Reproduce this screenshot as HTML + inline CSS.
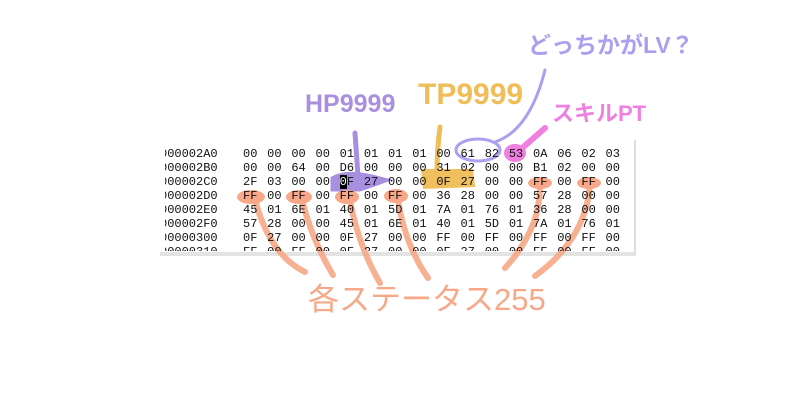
<!DOCTYPE html>
<html><head><meta charset="utf-8"><style>
body{margin:0;width:800px;height:400px;background:#fff;position:relative;overflow:hidden;font-family:"Liberation Sans","Noto Sans CJK JP",sans-serif}
#panel{position:absolute;left:160px;top:140px;width:474px;height:112px;background:#fff;border-right:2px solid #ddd;border-bottom:4px solid #e3e3e3;overflow:hidden}
.hx{position:absolute;font-family:"Liberation Mono",monospace;font-size:12px;color:#111;white-space:pre}
.lbl{position:absolute;font-weight:bold;white-space:nowrap}
</style></head><body>
<div id="panel"></div>
<svg width="800" height="400" style="position:absolute;left:0;top:0">
<g stroke-linecap="round" fill="none">
<path d="M355 133 L358 176" stroke="#a98fe0" stroke-width="5"/>
<path d="M332 178 Q345 170 372 176 L388 180 Q372 186 360 190 L332 190 Z" fill="#a98fe0" stroke="#a98fe0" stroke-width="3"/>
<path d="M440 127 Q437 150 437 172" stroke="#f0bd58" stroke-width="5"/>
<path d="M422 170 L472 170 L474 186 L424 188 Z" fill="#f0bd58" stroke="#f0bd58" stroke-width="2" opacity="0.95"/>
<ellipse cx="478" cy="150" rx="22" ry="11" stroke="#a9a0f0" stroke-width="3"/>
<path d="M495 142 Q530 130 545 70" stroke="#a9a0f0" stroke-width="3"/>
<path d="M520 150 L545 128" stroke="#f080e0" stroke-width="6"/>
<ellipse cx="515" cy="153" rx="11" ry="9" fill="#f080e0"/>
<g stroke="#f8a888" stroke-width="6" opacity="0.9">
<path d="M255 200 Q270 255 305 272"/>
<path d="M302 200 Q312 240 333 275"/>
<path d="M350 200 Q358 245 380 283"/>
<path d="M398 200 Q405 245 428 278"/>
<path d="M540 186 Q540 230 505 268"/>
<path d="M590 186 Q585 240 535 276"/>
</g>
<g fill="#f8a888">
<ellipse cx="251" cy="197" rx="14" ry="7"/><ellipse cx="299" cy="197" rx="13" ry="7"/>
<ellipse cx="347" cy="197" rx="12" ry="7"/><ellipse cx="396" cy="196" rx="12" ry="7"/>
<ellipse cx="540" cy="183" rx="12" ry="6"/><ellipse cx="589" cy="183" rx="12" ry="6"/>
</g>
</g>
</svg>
<div id="hex"></div>
<div class="lbl" style="left:305px;top:90px;font-size:25px;color:#a98fe0">HP9999</div>
<div class="lbl" style="left:418px;top:78px;font-size:30px;color:#f0bd58">TP9999</div>
<div class="lbl" style="left:528px;top:26px;font-size:23px;color:#a9a0f0">どっちかがLV？</div>
<div class="lbl" style="left:552px;top:96px;font-size:22px;color:#f080e0">スキルPT</div>
<div class="lbl" style="left:308px;top:274px;font-size:31px;color:#f8a888;font-weight:normal">各ステータス255</div>
<script>
var rows=[["000002A0","00 00 00 00 01 01 01 01 00 61 82 53 0A 06 02 03"],
["000002B0","00 00 64 00 D6 00 00 00 31 02 00 00 B1 02 00 00"],
["000002C0","2F 03 00 00 0F 27 00 00 0F 27 00 00 FF 00 FF 00"],
["000002D0","FF 00 FF 00 FF 00 FF 00 36 28 00 00 57 28 00 00"],
["000002E0","45 01 6E 01 40 01 5D 01 7A 01 76 01 36 28 00 00"],
["000002F0","57 28 00 00 45 01 6E 01 40 01 5D 01 7A 01 76 01"],
["00000300","0F 27 00 00 0F 27 00 00 FF 00 FF 00 FF 00 FF 00"],
["00000310","FF 00 FF 00 0F 27 00 00 0F 27 00 00 FF 00 FF 00"]];
var h="";
rows.forEach(function(r,i){var y=147+i*14;
h+='<div class="hx" style="left:160px;top:'+y+'px;clip-path:inset(0 0 '+(i==7?'8px':'0')+' 5px)">'+r[0]+'</div>';
r[1].split(" ").forEach(function(b,j){var x=243+j*24.17;
if(i==2&&j==4)b='<span style="background:#000;color:#fff">0</span>F';
h+='<div class="hx" style="left:'+x+'px;top:'+y+'px;'+(i==7?'clip-path:inset(0 0 8px 0)':'')+'">'+b+'</div>';});});
document.getElementById("hex").innerHTML=h;
</script>
</body></html>
